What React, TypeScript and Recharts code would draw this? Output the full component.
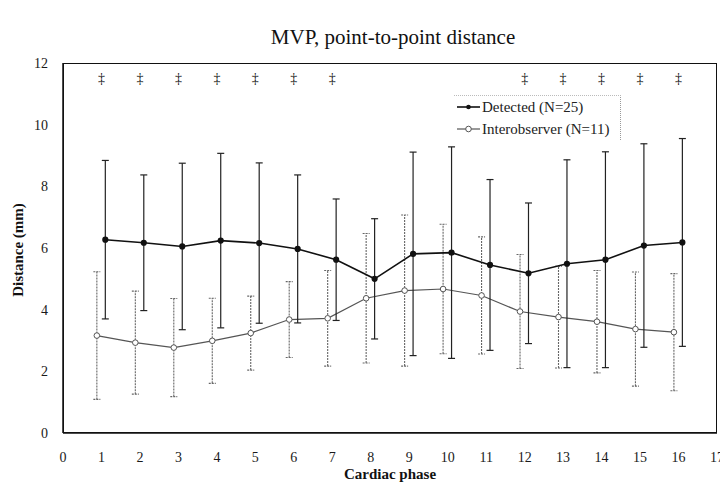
import { ComposedChart, Line, Scatter, XAxis, YAxis, ErrorBar } from "recharts";

const phases = [1, 2, 3, 4, 5, 6, 7, 8, 9, 10, 11, 12, 13, 14, 15, 16];
const detectedMean = [6.27, 6.17, 6.05, 6.24, 6.16, 5.97, 5.62, 5.0, 5.81, 5.85, 5.45, 5.18, 5.49, 5.62, 6.08, 6.18];
const detectedSd = [2.57, 2.2, 2.7, 2.83, 2.6, 2.4, 1.97, 1.95, 3.3, 3.43, 2.77, 2.28, 3.37, 3.5, 3.3, 3.37];
const interMean = [3.16, 2.93, 2.77, 2.99, 3.24, 3.68, 3.72, 4.37, 4.62, 4.67, 4.46, 3.94, 3.76, 3.61, 3.37, 3.27];
const interSd = [2.07, 1.67, 1.59, 1.38, 1.2, 1.23, 1.55, 2.1, 2.45, 2.1, 1.9, 1.85, 1.65, 1.66, 1.85, 1.9];
const sigPhases = [1, 2, 3, 4, 5, 6, 7, 12, 13, 14, 15, 16];
const sigLevel = 11.5;
const xTicks = [0, 1, 2, 3, 4, 5, 6, 7, 8, 9, 10, 11, 12, 13, 14, 15, 16, 17];
const yTicks = [0, 2, 4, 6, 8, 10, 12];

// the two series are drawn slightly apart so the bars don't overlap
const DET_SHIFT = 0.1;
const INT_SHIFT = -0.12;

const detected = phases.map((p, i) => ({ x: p + DET_SHIFT, y: detectedMean[i], sd: detectedSd[i] }));
const inter = phases.map((p, i) => ({ x: p + INT_SHIFT, y: interMean[i], sd: interSd[i] }));
const sig = sigPhases.map((p) => ({ x: p, y: sigLevel }));

const FONT = '"Liberation Serif", serif';

const tick = { fontSize: 14, fill: "#1a1a1a", fontFamily: FONT };

function Dagger(props: any) {
  const { cx, cy } = props;
  return (
    <text x={cx} y={cy} textAnchor="middle" dominantBaseline="central" fontSize={14} fill="#111" fontFamily={FONT}>
      ‡
    </text>
  );
}

function OpenDot(props: any) {
  const { cx, cy } = props;
  return <circle cx={cx} cy={cy} r={2.8} fill="#fff" stroke="#555" strokeWidth={1} />;
}

function at(x: number, y: number) {
  return {
    position: "absolute" as const,
    left: x,
    top: y,
    transform: "translate(-50%, -50%)",
    whiteSpace: "nowrap" as const,
    fontFamily: FONT,
    color: "#111",
  };
}

export default function App() {
  return (
    <div style={{ position: "relative", width: 720, height: 476 }}>
      <ComposedChart width={720} height={476} margin={{ top: 55, right: 11, bottom: 21, left: 0 }}>
        <XAxis
          type="number"
          dataKey="x"
          domain={[0, 17]}
          ticks={xTicks}
          interval={0}
          height={30}
          tick={tick}
          tickLine={false}
          tickSize={0}
          tickMargin={19}
          axisLine={{ stroke: "#111", strokeWidth: 1.5 }}
          allowDataOverflow
        />
        <YAxis
          type="number"
          domain={[0, 12]}
          ticks={yTicks}
          width={55}
          tick={tick}
          tickLine={false}
          tickSize={0}
          tickMargin={15}
          axisLine={{ stroke: "#111", strokeWidth: 1.5 }}
          allowDataOverflow
        />
        <Line
          data={inter}
          dataKey="y"
          stroke="#555"
          strokeWidth={1.2}
          dot={<OpenDot />}
          isAnimationActive={false}
        >
          <ErrorBar dataKey="sd" width={3.5} stroke="#666" strokeWidth={1.1} strokeDasharray="2 1" />
        </Line>
        <Line
          data={detected}
          dataKey="y"
          stroke="#111"
          strokeWidth={1.6}
          dot={{ r: 2.3, fill: "#111", stroke: "#111" }}
          isAnimationActive={false}
        >
          <ErrorBar dataKey="sd" width={3.5} stroke="#222" strokeWidth={1.2} />
        </Line>
        <Scatter data={sig} dataKey="y" shape={<Dagger />} isAnimationActive={false} />
      </ComposedChart>

      {/* frame around the plot area */}
      <div
        style={{
          position: "absolute",
          left: 55,
          top: 55,
          width: 654,
          height: 370,
          boxSizing: "border-box",
          border: "1.5px solid #111",
          pointerEvents: "none",
        }}
      />

      <div style={{ ...at(385, 29), fontSize: 21 }}>MVP, point-to-point distance</div>
      <div style={{ ...at(382, 466), fontSize: 15, fontWeight: "bold" }}>Cardiac phase</div>
      <div style={{ ...at(10, 242), fontSize: 15, fontWeight: "bold", transform: "translate(-50%, -50%) rotate(-90deg)" }}>
        Distance (mm)
      </div>

      {/* legend */}
      <div
        style={{
          position: "absolute",
          left: 446,
          top: 87,
          width: 166,
          height: 44,
          borderTop: "1px dotted #bbb",
          borderRight: "1px dotted #999",
          fontFamily: FONT,
          fontSize: 15,
          color: "#222",
          lineHeight: "22px",
        }}
      >
        <div style={{ display: "flex", alignItems: "center", whiteSpace: "nowrap" }}>
          <svg width={26} height={10} style={{ marginLeft: 2 }}>
            <line x1={1} y1={5} x2={24} y2={5} stroke="#111" strokeWidth={1.6} />
            <circle cx={12.5} cy={5} r={2.3} fill="#111" />
          </svg>
          <span>Detected (N=25)</span>
        </div>
        <div style={{ display: "flex", alignItems: "center", whiteSpace: "nowrap" }}>
          <svg width={26} height={10} style={{ marginLeft: 2 }}>
            <line x1={1} y1={5} x2={24} y2={5} stroke="#555" strokeWidth={1.2} />
            <circle cx={12.5} cy={5} r={2.8} fill="#fff" stroke="#555" />
          </svg>
          <span>Interobserver (N=11)</span>
        </div>
      </div>
    </div>
  );
}
